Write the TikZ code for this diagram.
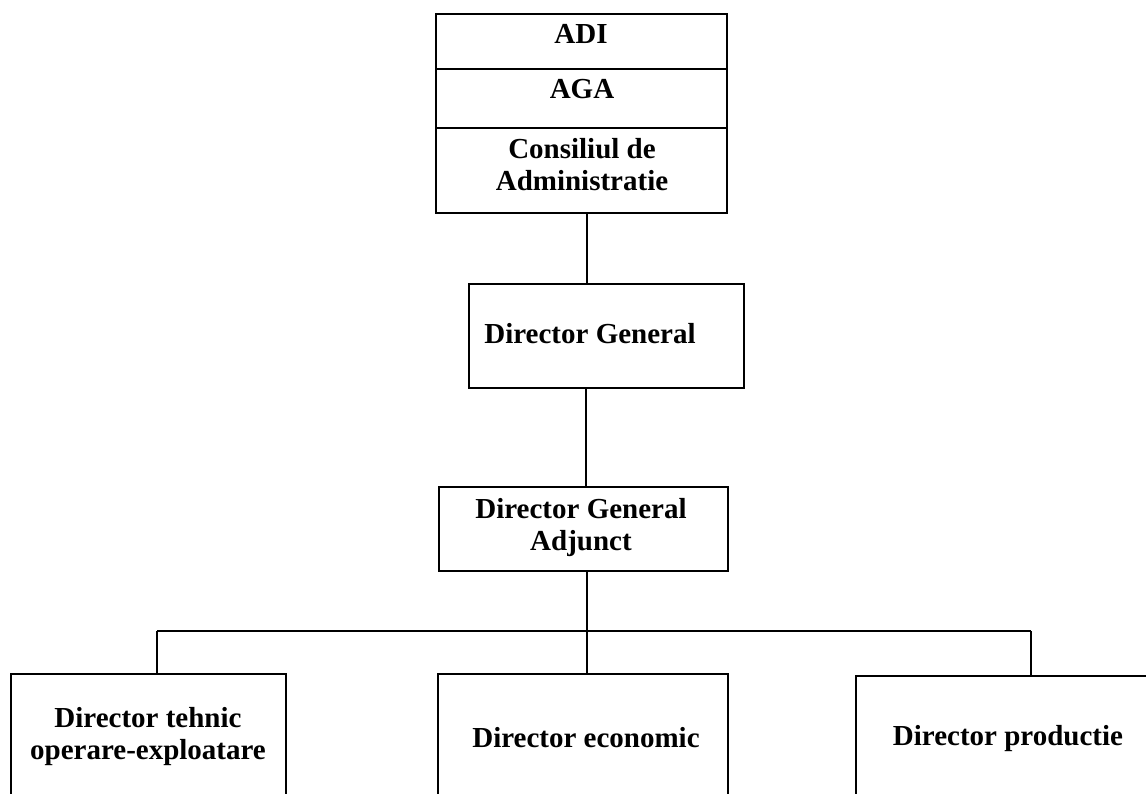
\documentclass[tikz,border=0pt]{standalone}
\usepackage{fontspec}
\setmainfont{Liberation Serif}
\begin{document}
\begin{tikzpicture}[x=1pt,y=-1pt,
  box/.style={draw=black,line width=1.6pt,rectangle,inner sep=0pt,anchor=north west},
  lbl/.style={font=\fontsize{29}{32}\selectfont\bfseries,align=center,inner sep=0pt},
  conn/.style={draw=black,line width=1.5pt}]
\useasboundingbox (0,0) rectangle (1146,794);
\clip (0,0) rectangle (1146,794);
% top stack
\node[box,minimum width=291pt,minimum height=55pt] (adi) at (435,13) {};
\node[box,minimum width=291pt,minimum height=59pt] (aga) at (435,68) {};
\node[box,minimum width=291pt,minimum height=85pt] (ca) at (435,127) {};
\node[lbl] (adiT) at (581,33.5) {ADI};
\node[lbl] (agaT) at (582,89.5) {AGA};
\node[lbl] (caT) at (582,165) {Consiliul de\\Administratie};
% director general
\node[box,minimum width=275pt,minimum height=104pt] (dg) at (468,283) {};
\node[lbl] (dgT) at (590,333.5) {Director General};
% adjunct
\node[box,minimum width=289pt,minimum height=84pt] (dga) at (438,486) {};
\node[lbl] (dgaT) at (581,528) {Director General\\Adjunct};
% bottom row
\node[box,minimum width=275pt,minimum height=160pt] (dt) at (10,673) {};
\node[lbl] (dtT) at (148,737) {Director tehnic\\operare-exploatare};
\node[box,minimum width=290pt,minimum height=160pt] (de) at (437,673) {};
\node[lbl] (deT) at (586,737.5) {Director economic};
\node[box,minimum width=320pt,minimum height=160pt] (dp) at (855,675) {};
\node[lbl] (dpT) at (1008,739) {Director productie};
% connectors
\coordinate (bus) at (587,631);
\draw[conn] (ca.south -| 587,0) -- (dg.north -| 587,0);
\draw[conn] (dg.south -| 586,0) -- (dga.north -| 586,0);
\draw[conn] (dga.south -| 587,0) -- (bus);
\draw[conn] (bus -| 157,0) -- (dt.north -| 157,0);
\draw[conn] (bus) -- (de.north -| bus);
\draw[conn] (bus -| 1031,0) -- (dp.north -| 1031,0);
\draw[conn] (bus -| 157,0) -- (bus -| 1031,0);
\end{tikzpicture}
\end{document}
